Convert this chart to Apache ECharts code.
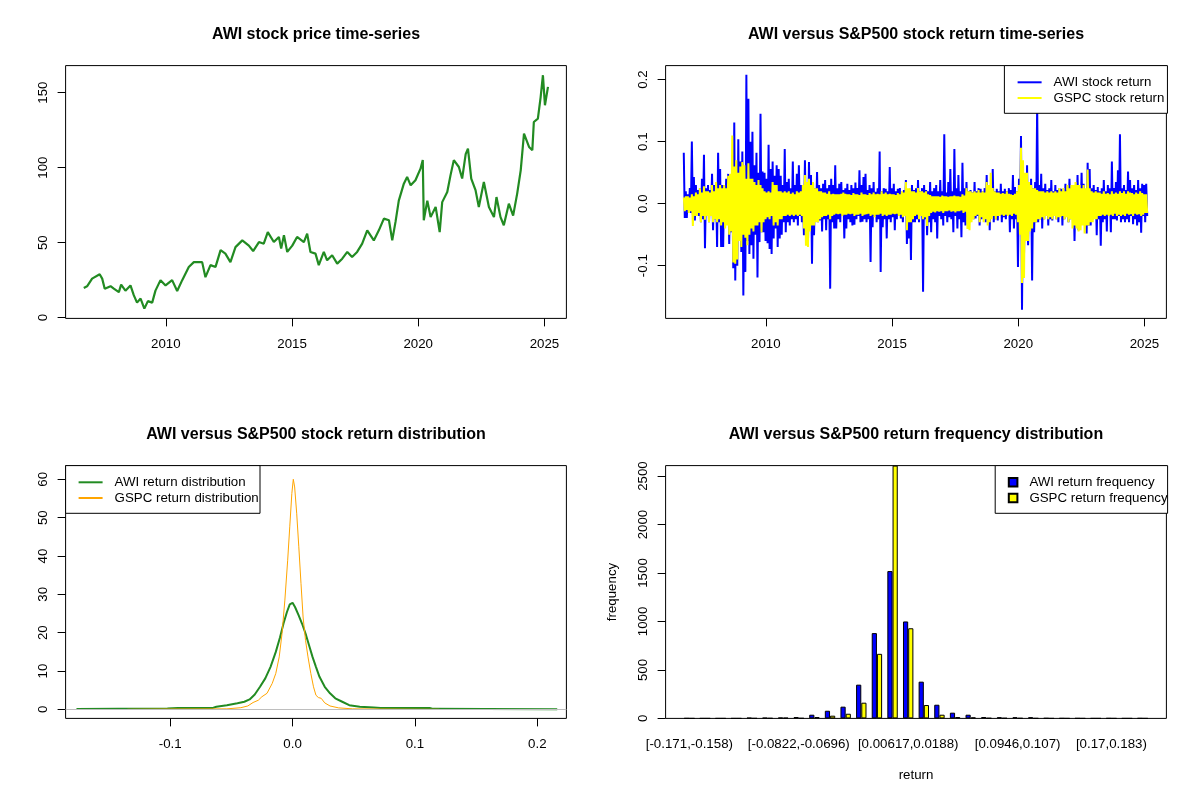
<!DOCTYPE html>
<html>
<head>
<meta charset="utf-8">
<script src="https://cdn.jsdelivr.net/npm/echarts@6/dist/echarts.min.js"></script>
<style>
html, body { margin: 0; padding: 0; background: #fff; }
#main { width: 1200px; height: 800px; }
</style>
</head>
<body>
<div id="main"></div>
<script>
// ---- data ----
var priceYears = [
  2006.75, 2006.88, 2007.08, 2007.38, 2007.48, 2007.58, 2007.81, 2007.94, 2008.14, 2008.23,
  2008.40, 2008.60, 2008.73, 2008.86, 2009.00, 2009.15, 2009.29, 2009.46, 2009.59, 2009.79,
  2009.99, 2010.25, 2010.45, 2010.65, 2010.91, 2011.11, 2011.44, 2011.57, 2011.77, 2011.97,
  2012.17, 2012.36, 2012.56, 2012.76, 2013.03, 2013.29, 2013.46, 2013.69, 2013.88, 2014.04,
  2014.28, 2014.48, 2014.57, 2014.68, 2014.81, 2015.01, 2015.20, 2015.47, 2015.60, 2015.73,
  2015.93, 2016.06, 2016.26, 2016.39, 2016.59, 2016.79, 2016.99, 2017.19, 2017.38, 2017.58,
  2017.78, 2017.98, 2018.24, 2018.44, 2018.64, 2018.84, 2018.97, 2019.10, 2019.23, 2019.43,
  2019.56, 2019.70, 2019.89, 2020.09, 2020.18, 2020.22, 2020.36, 2020.49, 2020.69, 2020.85,
  2020.95, 2021.15, 2021.28, 2021.41, 2021.61, 2021.74, 2021.88, 2021.97, 2022.10, 2022.27,
  2022.40, 2022.60, 2022.80, 2023.00, 2023.10, 2023.26, 2023.39, 2023.59, 2023.76, 2023.92,
  2024.06, 2024.19, 2024.39, 2024.52, 2024.58, 2024.74, 2024.85, 2024.94, 2025.02, 2025.14
];
var priceValues = [
  19.8, 20.9, 26, 28.9, 26, 19.3, 21, 19.3, 17, 22,
  18, 21.5, 15, 10, 12.7, 6, 11, 10, 18, 25,
  21.5, 25, 17.8, 25, 33.8, 37, 37, 27, 35, 33.8,
  45, 42.7, 37, 47, 51.5, 48, 44.4, 50.4, 49.3, 57,
  50.4, 53.8, 46, 55, 43.8, 48, 53.8, 50.4, 56, 43.8,
  42.7, 35, 43.8, 38.2, 41.6, 36, 39.3, 43.8, 40.4, 43.8,
  49.3, 58.2, 51.5, 58.2, 66, 64.9, 51.5, 63.8, 78, 89.3,
  93.8, 88.2, 91.6, 99.3, 105, 64.9, 78, 67, 73.8, 57,
  77, 83.8, 95, 105, 100.4, 92.7, 109, 112.7, 92.7, 85,
  73.8, 90.4, 73.8, 67, 80.4, 67, 61.6, 76, 68, 82.7,
  98.2, 122.7, 113.8, 111.6, 130.4, 132.7, 147, 161.6, 141.6, 153.8
];

// daily returns, kept as the highest / lowest value of each 0.08-year slice
var returnStart = 2006.75;
var returnStep = 0.08;
var awiHigh = [
  0.082, 0.02, 0.015, 0.025, 0.1, 0.043, 0.03, 0.022, 0.025, 0.04,
  0.079, 0.025, 0.03, 0.022, 0.048, 0.03, 0.025, 0.082, 0.056, 0.03,
  0.03, 0.04, 0.048, 0.035, 0.056, 0.131, 0.05, 0.104, 0.068, 0.084,
  0.05, 0.208, 0.169, 0.1, 0.116, 0.062, 0.082, 0.05, 0.145, 0.052,
  0.05, 0.04, 0.095, 0.056, 0.068, 0.045, 0.062, 0.056, 0.045, 0.03,
  0.088, 0.035, 0.04, 0.025, 0.068, 0.03, 0.048, 0.062, 0.03, 0.025,
  0.07, 0.035, 0.067, 0.046, 0.035, 0.025, 0.051, 0.03, 0.025, 0.032,
  0.038, 0.025, 0.03, 0.04, 0.03, 0.062, 0.025, 0.032, 0.035, 0.022,
  0.025, 0.032, 0.022, 0.03, 0.025, 0.034, 0.025, 0.054, 0.03, 0.043,
  0.048, 0.022, 0.03, 0.025, 0.035, 0.019, 0.025, 0.084, 0.02, 0.025,
  0.024, 0.02, 0.059, 0.025, 0.032, 0.02, 0.024, 0.025, 0.019, 0.022,
  0.038, 0.02, 0.024, 0.03, 0.022, 0.025, 0.038, 0.02, 0.025, 0.03,
  0.022, 0.02, 0.035, 0.02, 0.025, 0.03, 0.02, 0.038, 0.02, 0.112,
  0.018, 0.035, 0.056, 0.02, 0.088, 0.025, 0.046, 0.02, 0.066, 0.025,
  0.035, 0.02, 0.022, 0.018, 0.035, 0.02, 0.025, 0.024, 0.02, 0.025,
  0.046, 0.025, 0.02, 0.056, 0.02, 0.024, 0.02, 0.032, 0.02, 0.024,
  0.02, 0.025, 0.022, 0.046, 0.027, 0.02, 0.04, 0.109, 0.046, 0.03,
  0.062, 0.035, 0.04, 0.025, 0.035, 0.16, 0.03, 0.048, 0.025, 0.032,
  0.022, 0.025, 0.038, 0.02, 0.03, 0.022, 0.025, 0.024, 0.02, 0.032,
  0.022, 0.04, 0.025, 0.03, 0.02, 0.046, 0.022, 0.05, 0.032, 0.02,
  0.066, 0.056, 0.025, 0.03, 0.022, 0.027, 0.02, 0.025, 0.038, 0.02,
  0.03, 0.025, 0.068, 0.025, 0.035, 0.054, 0.112, 0.025, 0.03, 0.022,
  0.052, 0.038, 0.025, 0.03, 0.022, 0.038, 0.025, 0.032, 0.03, 0.032
];
var awiLow = [
  -0.023, -0.023, -0.01, -0.015, -0.018, -0.027, -0.015, -0.02, -0.03, -0.025,
  -0.072, -0.02, -0.03, -0.02, -0.043, -0.025, -0.07, -0.03, -0.07, -0.07,
  -0.03, -0.032, -0.065, -0.046, -0.104, -0.124, -0.1, -0.06, -0.078, -0.148,
  -0.11, -0.06, -0.081, -0.067, -0.089, -0.05, -0.119, -0.062, -0.046, -0.046,
  -0.06, -0.064, -0.073, -0.081, -0.056, -0.04, -0.07, -0.056, -0.05, -0.03,
  -0.046, -0.03, -0.035, -0.025, -0.03, -0.025, -0.035, -0.02, -0.03, -0.051,
  -0.04, -0.065, -0.03, -0.097, -0.051, -0.025, -0.03, -0.027, -0.045, -0.025,
  -0.043, -0.025, -0.137, -0.03, -0.04, -0.04, -0.025, -0.03, -0.02, -0.056,
  -0.04, -0.025, -0.03, -0.035, -0.034, -0.025, -0.02, -0.03, -0.029, -0.025,
  -0.03, -0.025, -0.094, -0.038, -0.02, -0.03, -0.025, -0.11, -0.038, -0.025,
  -0.056, -0.025, -0.03, -0.022, -0.043, -0.025, -0.02, -0.024, -0.03, -0.02,
  -0.065, -0.056, -0.091, -0.03, -0.03, -0.025, -0.03, -0.02, -0.142, -0.025,
  -0.051, -0.03, -0.046, -0.025, -0.03, -0.056, -0.02, -0.025, -0.035, -0.02,
  -0.03, -0.022, -0.025, -0.046, -0.02, -0.04, -0.025, -0.054, -0.03, -0.035,
  -0.022, -0.03, -0.02, -0.025, -0.024, -0.02, -0.035, -0.025, -0.02, -0.03,
  -0.025, -0.043, -0.02, -0.03, -0.025, -0.027, -0.02, -0.03, -0.022, -0.025,
  -0.02, -0.046, -0.025, -0.04, -0.025, -0.102, -0.03, -0.171, -0.08, -0.045,
  -0.067, -0.035, -0.124, -0.046, -0.03, -0.03, -0.025, -0.04, -0.025, -0.02,
  -0.035, -0.025, -0.027, -0.02, -0.025, -0.03, -0.02, -0.035, -0.025, -0.02,
  -0.03, -0.025, -0.02, -0.06, -0.025, -0.043, -0.02, -0.03, -0.025, -0.048,
  -0.035, -0.035, -0.025, -0.02, -0.051, -0.025, -0.068, -0.03, -0.025, -0.045,
  -0.02, -0.046, -0.025, -0.025, -0.027, -0.02, -0.03, -0.025, -0.03, -0.025,
  -0.03, -0.02, -0.033, -0.025, -0.035, -0.03, -0.047, -0.02, -0.03, -0.02
];
var spHigh = [
  0.01, 0.012, 0.012, 0.01, 0.015, 0.012, 0.018, 0.015, 0.025, 0.018,
  0.028, 0.02, 0.02, 0.018, 0.03, 0.02, 0.035, 0.025, 0.03, 0.025,
  0.03, 0.025, 0.045, 0.048, 0.11, 0.06, 0.07, 0.05, 0.06, 0.067,
  0.062, 0.04, 0.065, 0.04, 0.04, 0.035, 0.03, 0.038, 0.03, 0.025,
  0.02, 0.018, 0.02, 0.018, 0.035, 0.03, 0.03, 0.02, 0.02, 0.018,
  0.02, 0.018, 0.02, 0.016, 0.018, 0.015, 0.02, 0.018, 0.02, 0.03,
  0.046, 0.035, 0.04, 0.03, 0.035, 0.025, 0.025, 0.02, 0.02, 0.018,
  0.018, 0.016, 0.02, 0.015, 0.016, 0.015, 0.015, 0.015, 0.016, 0.018,
  0.016, 0.015, 0.015, 0.014, 0.017, 0.015, 0.015, 0.014, 0.018, 0.015,
  0.015, 0.014, 0.017, 0.015, 0.018, 0.015, 0.016, 0.015, 0.02, 0.016,
  0.018, 0.015, 0.016, 0.015, 0.015, 0.014, 0.017, 0.015, 0.02, 0.018,
  0.035, 0.025, 0.025, 0.02, 0.02, 0.018, 0.025, 0.02, 0.02, 0.018,
  0.02, 0.015, 0.014, 0.012, 0.012, 0.012, 0.012, 0.011, 0.013, 0.012,
  0.012, 0.011, 0.012, 0.012, 0.013, 0.012, 0.012, 0.011, 0.015, 0.013,
  0.025, 0.02, 0.02, 0.018, 0.02, 0.018, 0.022, 0.018, 0.02, 0.018,
  0.035, 0.03, 0.05, 0.025, 0.02, 0.018, 0.018, 0.016, 0.017, 0.016,
  0.02, 0.016, 0.015, 0.014, 0.016, 0.02, 0.03, 0.09, 0.07, 0.05,
  0.05, 0.035, 0.03, 0.025, 0.025, 0.022, 0.02, 0.02, 0.02, 0.018,
  0.02, 0.018, 0.02, 0.018, 0.02, 0.018, 0.025, 0.02, 0.025, 0.02,
  0.03, 0.025, 0.03, 0.03, 0.035, 0.03, 0.03, 0.025, 0.03, 0.025,
  0.055, 0.025, 0.02, 0.018, 0.02, 0.018, 0.018, 0.016, 0.02, 0.016,
  0.017, 0.015, 0.02, 0.016, 0.018, 0.016, 0.02, 0.017, 0.02, 0.016,
  0.02, 0.018, 0.017, 0.015, 0.018, 0.016, 0.02, 0.017, 0.015, 0.015
];
var spLow = [
  -0.012, -0.01, -0.015, -0.012, -0.036, -0.02, -0.02, -0.015, -0.03, -0.02,
  -0.026, -0.02, -0.03, -0.02, -0.03, -0.025, -0.03, -0.025, -0.035, -0.03,
  -0.04, -0.035, -0.05, -0.045, -0.095, -0.097, -0.09, -0.06, -0.07, -0.05,
  -0.055, -0.067, -0.05, -0.04, -0.045, -0.035, -0.035, -0.03, -0.046, -0.03,
  -0.025, -0.022, -0.025, -0.02, -0.035, -0.03, -0.035, -0.025, -0.025, -0.02,
  -0.02, -0.018, -0.02, -0.018, -0.02, -0.018, -0.02, -0.018, -0.02, -0.04,
  -0.068, -0.07, -0.045, -0.035, -0.035, -0.03, -0.03, -0.025, -0.022, -0.02,
  -0.02, -0.018, -0.025, -0.02, -0.018, -0.016, -0.017, -0.016, -0.02, -0.018,
  -0.018, -0.016, -0.017, -0.016, -0.02, -0.018, -0.018, -0.016, -0.02, -0.018,
  -0.017, -0.016, -0.02, -0.018, -0.022, -0.018, -0.018, -0.016, -0.02, -0.018,
  -0.02, -0.018, -0.018, -0.016, -0.017, -0.016, -0.02, -0.018, -0.022, -0.02,
  -0.043, -0.03, -0.03, -0.025, -0.02, -0.018, -0.025, -0.02, -0.025, -0.022,
  -0.036, -0.02, -0.015, -0.013, -0.014, -0.012, -0.013, -0.012, -0.015, -0.012,
  -0.012, -0.011, -0.013, -0.012, -0.014, -0.012, -0.012, -0.011, -0.015, -0.013,
  -0.041, -0.043, -0.03, -0.025, -0.02, -0.018, -0.03, -0.022, -0.03, -0.025,
  -0.035, -0.03, -0.025, -0.02, -0.025, -0.02, -0.02, -0.018, -0.02, -0.018,
  -0.02, -0.018, -0.02, -0.016, -0.018, -0.03, -0.05, -0.128, -0.12, -0.06,
  -0.06, -0.045, -0.04, -0.03, -0.03, -0.025, -0.025, -0.022, -0.025, -0.02,
  -0.025, -0.022, -0.025, -0.02, -0.025, -0.022, -0.022, -0.02, -0.025, -0.022,
  -0.03, -0.025, -0.04, -0.035, -0.04, -0.045, -0.043, -0.035, -0.048, -0.035,
  -0.035, -0.03, -0.03, -0.025, -0.025, -0.02, -0.02, -0.018, -0.02, -0.018,
  -0.02, -0.018, -0.02, -0.016, -0.02, -0.018, -0.02, -0.018, -0.02, -0.016,
  -0.018, -0.017, -0.02, -0.016, -0.018, -0.017, -0.02, -0.018, -0.015, -0.015
];

// kernel density curves
var awiDensX = [
  -0.1766, -0.1423, -0.1023, -0.0937, -0.0851, -0.0651, -0.0623, -0.0537, -0.0451, -0.0394,
  -0.0351, -0.0309, -0.0266, -0.0223, -0.018, -0.0137, -0.0103, -0.0074, -0.0046, -0.0023,
  0, 0.002, 0.0049, 0.0077, 0.0106, 0.0134, 0.0163, 0.0191, 0.022, 0.0263,
  0.0306, 0.0349, 0.0406, 0.0463, 0.0549, 0.0663, 0.072, 0.0949, 0.1006, 0.112,
  0.1149, 0.1577, 0.2163
];
var awiDensY = [
  0.1, 0.15, 0.25, 0.35, 0.4, 0.4, 0.7, 1.1, 1.6, 2.0,
  2.6, 3.9, 5.9, 8.1, 11.1, 15, 18.75, 22.4, 25.4, 27.4,
  27.8, 26.7, 24.6, 22.4, 19.8, 16.8, 13.7, 11.1, 8.5, 5.9,
  4.2, 2.9, 2.0, 1.1, 0.7, 0.5, 0.35, 0.35, 0.4, 0.4,
  0.15, 0.1, 0.05
];
var spDensX = [
  -0.135, -0.1, -0.0537, -0.0423, -0.0366, -0.0323, -0.028, -0.0251, -0.0209, -0.0166,
  -0.0137, -0.0109, -0.0086, -0.0063, -0.004, -0.0023, -0.0006, 0.0006, 0.0017, 0.0034,
  0.0051, 0.0069, 0.0086, 0.0106, 0.0126, 0.0149, 0.0171, 0.0191, 0.0211, 0.0234,
  0.0263, 0.0306, 0.0377, 0.0491, 0.1, 0.12
];
var spDensY = [
  0.02, 0.1, 0.15, 0.45, 0.9, 1.8, 2.4, 3.3, 4.2, 6.8,
  9.4, 13.7, 19.8, 28.5, 38.9, 47.6, 56.3, 60, 58, 51,
  42.4, 32.8, 24.1, 18, 13.7, 9.4, 5.9, 3.7, 3.1, 2.9,
  1.7, 0.9, 0.4, 0.15, 0.05, 0.02
];

// frequency table
var binLabels = [
  '[-0.171,-0.158)', '[-0.158,-0.146)', '[-0.146,-0.133)', '[-0.133,-0.12)', '[-0.12,-0.108)',
  '[-0.108,-0.0952)', '[-0.0952,-0.0822)', '[-0.0822,-0.0696)', '[-0.0696,-0.057)', '[-0.057,-0.0444)',
  '[-0.0444,-0.0317)', '[-0.0317,-0.0191)', '[-0.0191,-0.00646)', '[-0.00646,0.00617)', '[0.00617,0.0188)',
  '[0.0188,0.0314)', '[0.0314,0.0441)', '[0.0441,0.0567)', '[0.0567,0.0693)', '[0.0693,0.082)',
  '[0.082,0.0946)', '[0.0946,0.107)', '[0.107,0.12)', '[0.12,0.132)', '[0.132,0.145)',
  '[0.145,0.158)', '[0.158,0.17)', '[0.17,0.183)', '[0.183,0.196)', '[0.196,0.209]'
];
var awiFreq = [1, 0, 0, 0, 6, 6, 8, 14, 38, 79, 121, 348, 880, 1520, 1000, 379, 141, 59, 38, 14, 12, 12, 12, 2, 1, 1, 0, 1, 0, 1];
var spFreq = [0, 0, 0, 0, 1, 2, 6, 2, 14, 28, 48, 162, 666, 2608, 930, 138, 38, 14, 10, 3, 3, 2, 1, 0, 0, 0, 0, 0, 0, 0];

var yearTicks = [2010, 2015, 2020, 2025];
var priceTicks = [0, 50, 100, 150];
var returnTicks = [-0.1, 0, 0.1, 0.2];
var densTicksX = [-0.1, 0, 0.1, 0.2];
var densTicksY = [0, 10, 20, 30, 40, 50, 60];
var freqTicks = [0, 500, 1000, 1500, 2000, 2500];
var binTicks = [0, 7, 14, 21, 27];

// ---- chart ----
var FONT = 'Liberation Sans, Arial, sans-serif';
var PLOT_W = 500.8, PLOT_H = 252.8;

function pairs(xs, ys) {
  return xs.map(function (x, i) { return [x, ys[i]]; });
}
// one high and one low point per slice, so the line swings like the daily series
function spikes(highs, lows) {
  var out = [];
  for (var i = 0; i < highs.length; i++) {
    out.push([returnStart + i * returnStep, highs[i]]);
    out.push([returnStart + (i + 0.5) * returnStep, lows[i]]);
  }
  return out;
}
var plain = function (v) { return String(v); };
var fmt1 = function (v) { return v.toFixed(1); };

function axis(grid, min, max, ticks, fmt, isY) {
  return {
    type: 'value', gridIndex: grid, min: min, max: max,
    axisLine: { show: false, onZero: false },
    splitLine: { show: false },
    axisTick: { show: true, customValues: ticks, length: 8, lineStyle: { color: '#000', width: 1 } },
    axisLabel: {
      customValues: ticks, color: '#000', fontSize: 13.3, fontFamily: FONT,
      margin: isY ? 16 : 19, rotate: isY ? 90 : 0, formatter: fmt || plain
    }
  };
}
function grid(left, top) {
  return { left: left, top: top, width: PLOT_W, height: PLOT_H, show: true,
    borderColor: '#000', borderWidth: 1, backgroundColor: 'transparent' };
}
function title(text, x, y) {
  return { text: text, left: x, top: y, textAlign: 'center', padding: 0,
    textStyle: { fontSize: 16, fontWeight: 'bold', color: '#000', fontFamily: FONT } };
}
function legend(names, left, top, pad, isBar) {
  var lg = {
    data: names, left: left, top: top, orient: 'vertical', selectedMode: false,
    backgroundColor: '#fff', borderColor: '#000', borderWidth: 1, borderRadius: 0,
    padding: pad, itemGap: 1.7,
    itemWidth: isBar ? 8.6 : 24, itemHeight: isBar ? 8.6 : 14,
    textStyle: { fontSize: 13.3, color: '#000', fontFamily: FONT, lineHeight: 14, padding: [0, 0, 0, 7] }
  };
  if (isBar) {
    lg.icon = 'rect';
  } else {
    lg.itemStyle = { opacity: 0 };   // line only, no marker
  }
  return lg;
}

var chart = echarts.init(document.getElementById('main'));
chart.setOption({
  animation: false,
  backgroundColor: '#fff',
  textStyle: { fontFamily: FONT },
  title: [
    title('AWI stock price time-series', 316, 27),
    title('AWI versus S&P500 stock return time-series', 916, 27),
    title('AWI versus S&P500 stock return distribution', 316, 427),
    title('AWI versus S&P500 return frequency distribution', 916, 427)
  ],
  grid: [grid(65.6, 65.6), grid(665.6, 65.6), grid(65.6, 465.6), grid(665.6, 465.6)],
  xAxis: [
    axis(0, 2006.03, 2025.87, yearTicks, null, false),
    axis(1, 2006.03, 2025.87, yearTicks, null, false),
    axis(2, -0.1855, 0.2238, densTicksX, fmt1, false),
    Object.assign(axis(3, -1.52, 30.52, binTicks, function (v) { return binLabels[v]; }, false), {
      axisTick: { show: false },
      name: 'return', nameLocation: 'middle', nameGap: 50,
      nameTextStyle: { fontSize: 13.3, color: '#000', fontFamily: FONT }
    })
  ],
  yAxis: [
    axis(0, -0.5, 168, priceTicks, null, true),
    axis(1, -0.185, 0.2226, returnTicks, fmt1, true),
    axis(2, -2.34, 63.57, densTicksY, null, true),
    Object.assign(axis(3, 0, 2608, freqTicks, null, true), {
      name: 'frequency', nameLocation: 'middle', nameGap: 47, nameRotate: 90,
      nameTextStyle: { fontSize: 13.3, color: '#000', fontFamily: FONT }
    })
  ],
  legend: [
    legend(['AWI stock return', 'GSPC stock return'], 1004.4, 65.6, [9.7, 3, 8.3, 12.2], false),
    legend(['AWI return distribution', 'GSPC return distribution'], 65.6, 465.6, [9.7, 1.3, 8.3, 12], false),
    legend(['AWI return frequency', 'GSPC return frequency'], 995.2, 465.6, [9.7, 0, 8.3, 12.6], true)
  ],
  series: [
    {
      name: 'AWI price', type: 'line', xAxisIndex: 0, yAxisIndex: 0,
      data: pairs(priceYears, priceValues), symbol: 'none',
      color: '#228B22', lineStyle: { color: '#228B22', width: 2.2 }
    },
    {
      name: 'AWI stock return', type: 'line', xAxisIndex: 1, yAxisIndex: 1,
      data: spikes(awiHigh, awiLow), symbol: 'none',
      color: '#0000FF', lineStyle: { color: '#0000FF', width: 2 }
    },
    {
      name: 'GSPC stock return', type: 'line', xAxisIndex: 1, yAxisIndex: 1,
      data: spikes(spHigh, spLow), symbol: 'none',
      color: '#FFFF00', lineStyle: { color: '#FFFF00', width: 2 }
    },
    {
      name: 'AWI return distribution', type: 'line', xAxisIndex: 2, yAxisIndex: 2,
      data: pairs(awiDensX, awiDensY), symbol: 'none',
      color: '#228B22', lineStyle: { color: '#228B22', width: 2 },
      markLine: {
        silent: true, symbol: 'none', label: { show: false },
        lineStyle: { color: '#BEBEBE', width: 1, type: 'solid' },
        data: [{ yAxis: 0 }]
      }
    },
    {
      name: 'GSPC return distribution', type: 'line', xAxisIndex: 2, yAxisIndex: 2,
      data: pairs(spDensX, spDensY), symbol: 'none',
      color: '#FFA500', lineStyle: { color: '#FFA500', width: 1 }
    },
    {
      name: 'AWI return frequency', type: 'bar', xAxisIndex: 3, yAxisIndex: 3,
      data: awiFreq.map(function (v, i) { return [i, v]; }),
      barWidth: 5.2, barGap: '0%',
      itemStyle: { color: '#0000FF', borderColor: '#000', borderWidth: 1 }
    },
    {
      name: 'GSPC return frequency', type: 'bar', xAxisIndex: 3, yAxisIndex: 3,
      data: spFreq.map(function (v, i) { return [i, v]; }),
      barWidth: 5.2, barGap: '0%',
      itemStyle: { color: '#FFFF00', borderColor: '#000', borderWidth: 1 }
    }
  ]
});
</script>
</body>
</html>
